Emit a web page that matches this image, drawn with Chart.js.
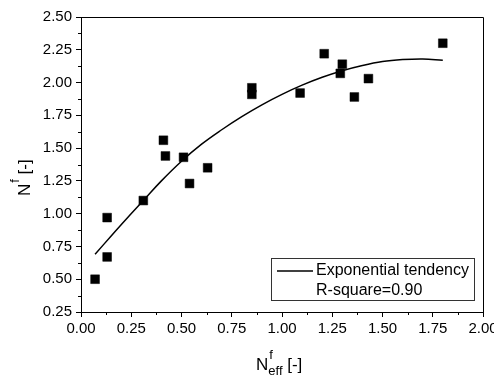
<!DOCTYPE html>
<html>
<head>
<meta charset="utf-8">
<script src="https://cdn.jsdelivr.net/npm/chart.js@4/dist/chart.umd.min.js"></script>
<style>
    html, body { margin: 0; padding: 0; background: #ffffff; }
    #wrap { width: 494px; height: 376px; }
</style>
</head>
<body>
<div id="wrap"><canvas id="fitChart" width="494" height="376"></canvas></div>
<script>
// Measured points
var measuredX = [0.07, 0.13, 0.13, 0.31, 0.41, 0.42, 0.51, 0.54, 0.63, 0.85, 0.85, 1.09, 1.21, 1.29, 1.30, 1.36, 1.43, 1.80];
var measuredY = [0.50, 0.67, 0.97, 1.10, 1.56, 1.44, 1.43, 1.23, 1.35, 1.96, 1.91, 1.92, 2.22, 2.07, 2.14, 1.89, 2.03, 2.30];

// Fitted tendency curve
var fitX = [0.07, 0.15, 0.22, 0.31, 0.40, 0.50, 0.60, 0.70, 0.80, 0.90, 1.00, 1.10, 1.20, 1.30, 1.40, 1.50, 1.60, 1.70, 1.80];
var fitY = [0.69, 0.83, 0.95, 1.10, 1.25, 1.40, 1.53, 1.64, 1.74, 1.83, 1.91, 1.98, 2.04, 2.09, 2.13, 2.16, 2.175, 2.18, 2.17];

var legendLines = ['Exponential tendency', 'R-square=0.90'];

var fontFamily = "'Liberation Sans', Arial, sans-serif";
Chart.defaults.font.family = fontFamily;
Chart.defaults.color = '#000000';

function toPoints(xs, ys) {
    return xs.map(function (x, i) { return { x: x, y: ys[i] }; });
}

// frame, minor ticks, legend box and the axis titles with sub/superscripts
var decorPlugin = {
    id: 'decor',
    afterDraw: function (chart) {
        var ctx = chart.ctx;
        var area = chart.chartArea;
        var xs = chart.scales.x;
        var ys = chart.scales.y;
        ctx.save();
        ctx.strokeStyle = '#000000';
        ctx.lineWidth = 1;

        // top + right frame
        ctx.beginPath();
        ctx.moveTo(Math.round(area.left) + 0.5, Math.round(area.top) + 0.5);
        ctx.lineTo(Math.round(area.right) + 0.5, Math.round(area.top) + 0.5);
        ctx.lineTo(Math.round(area.right) + 0.5, Math.round(area.bottom) + 0.5);
        ctx.stroke();

        // minor ticks halfway between majors
        ctx.beginPath();
        for (var i = 0; i < xs.ticks.length - 1; i++) {
            var mx = Math.round(xs.getPixelForValue((xs.ticks[i].value + xs.ticks[i + 1].value) / 2)) + 0.5;
            ctx.moveTo(mx, area.bottom);
            ctx.lineTo(mx, area.bottom + 3);
        }
        for (var j = 0; j < ys.ticks.length - 1; j++) {
            var my = Math.round(ys.getPixelForValue((ys.ticks[j].value + ys.ticks[j + 1].value) / 2)) + 0.5;
            ctx.moveTo(area.left, my);
            ctx.lineTo(area.left - 3, my);
        }
        ctx.stroke();

        // legend box
        ctx.strokeStyle = '#333333';
        ctx.strokeRect(271.5, 258.5, 203, 42);
        ctx.strokeStyle = '#000000';
        ctx.lineWidth = 1.5;
        ctx.beginPath();
        ctx.moveTo(277, 271);
        ctx.lineTo(313, 271);
        ctx.stroke();
        ctx.fillStyle = '#000000';
        ctx.font = '16px ' + fontFamily;
        ctx.textBaseline = 'middle';
        ctx.textAlign = 'left';
        ctx.fillText(legendLines[0], 316, 271);
        ctx.fillText(legendLines[1], 316, 291);

        // axis titles
        ctx.textBaseline = 'alphabetic';
        drawTitle(ctx, 256, 370, 0, 'eff');
        drawTitle(ctx, 30, 196, -Math.PI / 2, '');
        ctx.restore();
    }
};

function drawTitle(ctx, x, y, angle, sub) {
    ctx.save();
    ctx.translate(x, y);
    ctx.rotate(angle);
    ctx.font = '17px ' + fontFamily;
    ctx.fillText('N', 0, 0);
    var w = ctx.measureText('N').width;
    ctx.font = '13px ' + fontFamily;
    ctx.fillText('f', w + 1, -11);
    var end = w + 1 + ctx.measureText('f').width;
    if (sub) {
        ctx.fillText(sub, w, 5);
        end = Math.max(end, w + ctx.measureText(sub).width);
    }
    ctx.font = '17px ' + fontFamily;
    ctx.fillText(' [-]', end, 0);
    ctx.restore();
}

new Chart(document.getElementById('fitChart'), {
    type: 'scatter',
    data: {
        datasets: [{
            label: 'Measured',
            data: toPoints(measuredX, measuredY),
            pointStyle: 'rect',
            pointRadius: 6.2,
            pointHoverRadius: 6.2,
            pointBackgroundColor: '#000000',
            pointBorderColor: '#000000',
            pointBorderWidth: 0.5
        }, {
            label: legendLines[0],
            data: toPoints(fitX, fitY),
            showLine: true,
            borderColor: '#000000',
            borderWidth: 1.5,
            pointRadius: 0,
            tension: 0.4
        }]
    },
    options: {
        responsive: false,
        animation: false,
        layout: {
            padding: { left: 0, top: 17, right: 11, bottom: 0 }
        },
        scales: {
            x: {
                type: 'linear',
                min: 0,
                max: 2,
                grid: { drawOnChartArea: false, drawTicks: true, tickLength: 5, tickColor: '#000000' },
                border: { color: '#000000', width: 1 },
                ticks: {
                    stepSize: 0.25,
                    padding: 3,
                    font: { size: 15 },
                    maxRotation: 0,
                    callback: function (value) { return value.toFixed(2); }
                },
                afterFit: function (scale) {
                    scale.height = 64;
                    scale.paddingLeft = 0;
                    scale.paddingRight = 0;
                }
            },
            y: {
                type: 'linear',
                min: 0.25,
                max: 2.5,
                grid: { drawOnChartArea: false, drawTicks: true, tickLength: 5, tickColor: '#000000' },
                border: { color: '#000000', width: 1 },
                ticks: {
                    stepSize: 0.25,
                    padding: 4,
                    font: { size: 15 },
                    callback: function (value) { return value.toFixed(2); }
                },
                afterFit: function (scale) {
                    scale.width = 81;
                    scale.paddingTop = 0;
                    scale.paddingBottom = 0;
                }
            }
        },
        plugins: {
            legend: { display: false },
            tooltip: { enabled: false }
        }
    },
    plugins: [decorPlugin]
});
</script>
</body>
</html>
